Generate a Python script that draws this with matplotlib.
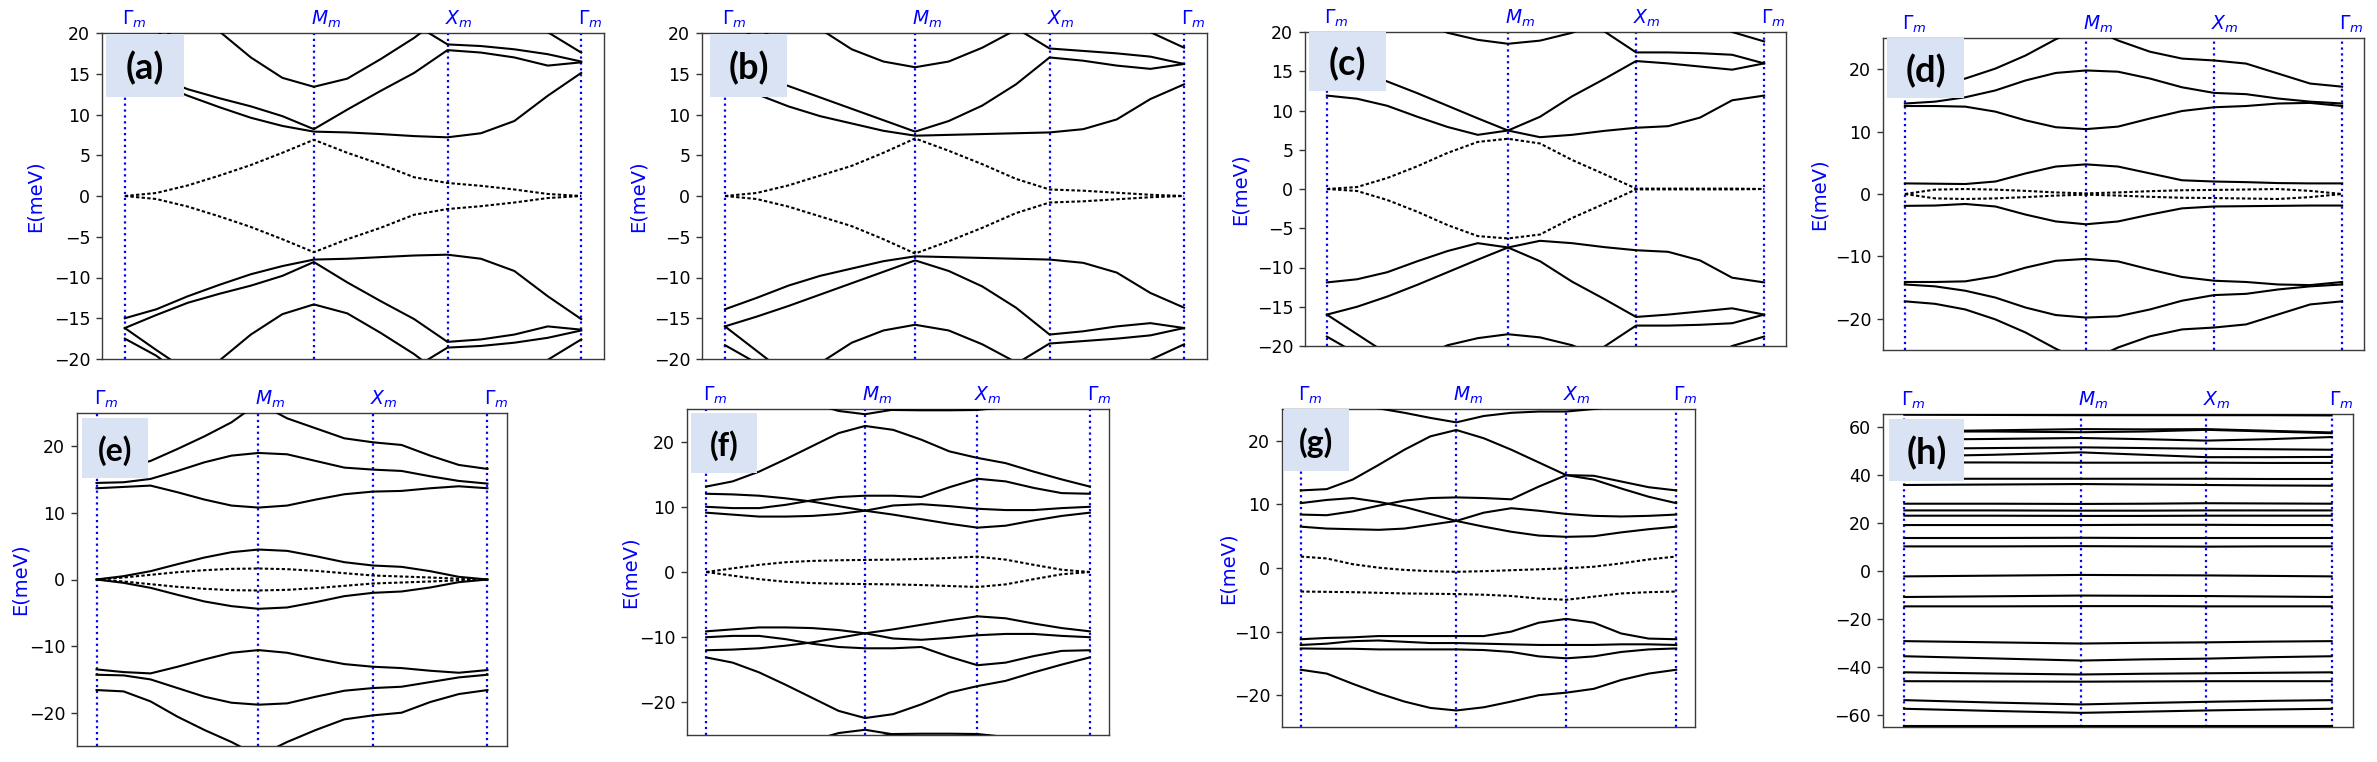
import numpy as np
import matplotlib.pyplot as plt
from matplotlib.patches import Rectangle
from matplotlib.transforms import blended_transform_factory, offset_copy

W, H = 2377, 762

s2 = np.sqrt(2.0)
k_nodes = [0.0, s2, s2 + 1.0, s2 + 2.0]
k_names = [r'$\Gamma_m$', r'$M_m$', r'$X_m$', r'$\Gamma_m$']
# points where the bands were read: 6 steps on Gamma-M, 4 on M-X, 4 on X-Gamma
k15 = np.concatenate([np.linspace(0, s2, 7), s2 + np.linspace(0, 1, 5)[1:],
                      s2 + 1 + np.linspace(0, 1, 5)[1:]])
# panel (h) is nearly flat: 2 steps per segment
k7 = np.concatenate([np.linspace(0, s2, 3), s2 + np.linspace(0, 1, 3)[1:],
                     s2 + 1 + np.linspace(0, 1, 3)[1:]])

# ---------------- (a) ----------------
bands_a = [
    [15.0, 13.9, 12.3, 10.9, 9.6, 8.6, 7.9, 7.8, 7.6, 7.35, 7.2, 7.7, 9.2, 12.3, 15.1],
    [16.2, 14.6, 13.1, 12.0, 11.0, 9.8, 8.2, 10.6, 12.9, 15.1, 17.9, 17.6, 17.0, 16.0, 16.4],
    [28.0, 26.0, 23.4, 20.2, 17.0, 14.5, 13.4, 14.4, 16.8, 19.4, 22.5, 24.0, 25.0, 25.5, 26.0],
    [30.0, 29.0, 28.0, 27.0, 26.0, 25.0, 24.5, 24.0, 23.0, 21.1, 18.6, 18.4, 18.0, 17.4, 16.5],
    [17.5, 19.6, 22.5, 25.0, 26.0, 27.0, 27.5, 27.0, 26.5, 26.0, 25.5, 24.0, 23.0, 20.1, 17.6],
    [16.2, 18.9, 21.5, 23.5, 25.5, 27.0, 28.0, 28.0, 28.0, 28.0, 28.0, 28.0, 28.0, 28.0, 28.0],
    [-15.0, -13.9, -12.3, -10.9, -9.6, -8.6, -7.8, -7.7, -7.5, -7.3, -7.2, -7.7, -9.2, -12.3, -15.1],
    [-16.2, -14.6, -13.1, -12.0, -11.0, -9.8, -8.1, -10.6, -12.9, -15.1, -17.9, -17.6, -17.0, -16.0, -16.4],
    [-28.0, -26.0, -23.4, -20.2, -17.0, -14.5, -13.3, -14.4, -16.8, -19.4, -22.5, -24.0, -25.0, -25.5, -26.0],
    [-30.0, -29.0, -28.0, -27.0, -26.0, -25.0, -24.5, -24.0, -23.0, -21.1, -18.6, -18.4, -18.0, -17.4, -16.5],
    [-17.5, -19.6, -22.5, -25.0, -26.0, -27.0, -27.5, -27.0, -26.5, -26.0, -25.5, -24.0, -23.0, -20.1, -17.6],
    [-16.2, -18.9, -21.5, -23.5, -25.5, -27.0, -28.0, -28.0, -28.0, -28.0, -28.0, -28.0, -28.0, -28.0, -28.0],
]
flat_a = [
    [0.0, 0.37, 1.3, 2.5, 3.8, 5.3, 6.9, 5.3, 3.9, 2.3, 1.6, 1.25, 0.8, 0.25, 0.0],
    [0.0, -0.37, -1.3, -2.5, -3.8, -5.3, -6.9, -5.3, -3.9, -2.3, -1.6, -1.25, -0.8, -0.25, 0.0],
]

# ---------------- (b) ----------------
bands_b = [
    [13.9, 12.5, 11.0, 9.8, 8.9, 8.0, 7.4, 7.5, 7.6, 7.7, 7.8, 8.2, 9.4, 11.9, 13.7],
    [16.0, 14.8, 13.5, 12.1, 10.7, 9.3, 7.9, 9.2, 11.1, 13.7, 17.0, 16.6, 16.0, 15.6, 16.2],
    [28.0, 26.0, 24.0, 20.5, 18.0, 16.5, 15.8, 16.5, 18.2, 20.4, 23.0, 24.5, 25.5, 26.0, 26.5],
    [30.0, 29.0, 28.0, 27.0, 26.0, 25.5, 25.0, 24.0, 22.5, 20.6, 18.1, 17.8, 17.5, 17.1, 16.2],
    [18.3, 20.5, 23.0, 25.0, 26.0, 27.0, 27.5, 27.0, 26.5, 26.0, 25.5, 24.5, 23.0, 20.1, 18.2],
    [16.0, 19.0, 22.0, 24.5, 26.0, 27.0, 28.0, 28.0, 28.0, 28.0, 28.0, 28.0, 28.0, 28.0, 28.0],
    [-13.9, -12.5, -11.0, -9.8, -8.9, -8.0, -7.4, -7.5, -7.6, -7.7, -7.8, -8.2, -9.4, -11.9, -13.7],
    [-16.0, -14.8, -13.5, -12.1, -10.7, -9.3, -7.9, -9.2, -11.1, -13.7, -17.0, -16.6, -16.0, -15.6, -16.2],
    [-28.0, -26.0, -24.0, -20.5, -18.0, -16.5, -15.8, -16.5, -18.2, -20.4, -23.0, -24.5, -25.5, -26.0, -26.5],
    [-30.0, -29.0, -28.0, -27.0, -26.0, -25.5, -25.0, -24.0, -22.5, -20.6, -18.1, -17.8, -17.5, -17.1, -16.2],
    [-18.3, -20.5, -23.0, -25.0, -26.0, -27.0, -27.5, -27.0, -26.5, -26.0, -25.5, -24.5, -23.0, -20.1, -18.2],
    [-16.0, -19.0, -22.0, -24.5, -26.0, -27.0, -28.0, -28.0, -28.0, -28.0, -28.0, -28.0, -28.0, -28.0, -28.0],
]
flat_b = [
    [0.0, 0.37, 1.3, 2.5, 3.7, 5.3, 7.06, 5.55, 3.9, 2.1, 0.8, 0.65, 0.4, 0.15, 0.0],
    [0.0, -0.37, -1.3, -2.5, -3.7, -5.3, -7.06, -5.55, -3.9, -2.1, -0.8, -0.65, -0.4, -0.15, 0.0],
]

# ---------------- (c) ----------------
bands_c = [
    [11.9, 11.5, 10.6, 9.2, 7.9, 6.9, 7.45, 9.2, 11.8, 14.0, 16.3, 16.0, 15.6, 15.2, 16.0],
    [16.0, 15.0, 13.7, 12.2, 10.6, 9.0, 7.45, 6.6, 6.9, 7.4, 7.8, 8.0, 9.1, 11.3, 11.9],
    [16.0, 18.5, 21.0, 23.5, 25.5, 27.0, 27.5, 25.2, 22.6, 20.1, 17.4, 17.4, 17.3, 17.1, 16.0],
    [18.8, 21.0, 23.5, 26.0, 27.5, 28.0, 28.0, 28.0, 28.0, 28.0, 28.0, 27.5, 22.5, 20.0, 18.8],
    [30.0, 27.5, 25.0, 21.6, 19.9, 19.0, 18.5, 18.9, 19.9, 21.6, 24.0, 26.0, 27.0, 28.0, 29.0],
    [-11.9, -11.5, -10.6, -9.2, -7.9, -6.9, -7.45, -9.2, -11.8, -14.0, -16.3, -16.0, -15.6, -15.2, -16.0],
    [-16.0, -15.0, -13.7, -12.2, -10.6, -9.0, -7.45, -6.6, -6.9, -7.4, -7.8, -8.0, -9.1, -11.3, -11.9],
    [-16.0, -18.5, -21.0, -23.5, -25.5, -27.0, -27.5, -25.2, -22.6, -20.1, -17.4, -17.4, -17.3, -17.1, -16.0],
    [-18.8, -21.0, -23.5, -26.0, -27.5, -28.0, -28.0, -28.0, -28.0, -28.0, -28.0, -27.5, -22.5, -20.0, -18.8],
    [-30.0, -27.5, -25.0, -21.6, -19.9, -19.0, -18.5, -18.9, -19.9, -21.6, -24.0, -26.0, -27.0, -28.0, -29.0],
]
flat_c = [
    [0.0, 0.25, 1.4, 2.9, 4.6, 6.0, 6.4, 5.8, 3.7, 1.9, 0.05, 0.05, 0.05, 0.05, 0.0],
    [0.0, -0.25, -1.4, -2.9, -4.6, -6.0, -6.3, -5.8, -3.7, -1.9, -0.05, -0.05, -0.05, -0.05, 0.0],
]

# ---------------- (d) ----------------
bands_d = [
    [17.2, 17.6, 18.5, 20.1, 22.2, 24.8, 27.0, 24.6, 22.8, 21.7, 21.4, 20.9, 19.3, 17.7, 17.2],
    [14.5, 14.8, 15.5, 16.6, 18.2, 19.4, 19.8, 19.6, 18.5, 17.1, 16.2, 16.0, 15.3, 14.8, 14.5],
    [14.1, 14.1, 14.0, 13.2, 11.8, 10.7, 10.4, 10.8, 12.1, 13.3, 13.9, 14.1, 14.5, 14.6, 14.1],
    [1.7, 1.65, 1.6, 2.0, 3.3, 4.4, 4.75, 4.4, 3.3, 2.2, 2.0, 1.9, 1.75, 1.7, 1.7],
    [-1.9, -1.85, -1.6, -2.0, -3.3, -4.4, -4.85, -4.4, -3.3, -2.3, -2.0, -1.95, -1.9, -1.85, -1.85],
    [-14.1, -14.1, -14.0, -13.2, -11.8, -10.7, -10.4, -10.8, -12.1, -13.3, -13.9, -14.1, -14.5, -14.6, -14.1],
    [-14.5, -14.8, -15.5, -16.6, -18.2, -19.4, -19.8, -19.6, -18.5, -17.1, -16.2, -16.0, -15.3, -14.8, -14.5],
    [-17.2, -17.6, -18.5, -20.1, -22.2, -24.8, -27.0, -24.6, -22.8, -21.7, -21.4, -20.9, -19.3, -17.7, -17.2],
]
flat_d = [
    [0.0, 0.7, 0.8, 0.7, 0.5, 0.25, 0.1, 0.25, 0.45, 0.6, 0.65, 0.72, 0.8, 0.5, 0.0],
    [0.0, -0.7, -0.8, -0.7, -0.5, -0.25, -0.1, -0.25, -0.45, -0.6, -0.65, -0.72, -0.8, -0.5, 0.0],
]

# ---------------- (e) ----------------
bands_e = [
    [16.6, 16.8, 17.8, 19.6, 21.5, 23.6, 26.5, 24.2, 22.7, 21.2, 20.6, 20.2, 18.6, 17.2, 16.6],
    [14.5, 14.6, 15.1, 16.3, 17.6, 18.6, 19.0, 18.8, 17.8, 16.8, 16.5, 16.3, 15.5, 14.8, 14.4],
    [13.7, 13.9, 14.1, 13.1, 12.0, 11.1, 10.8, 11.1, 12.0, 12.8, 13.2, 13.3, 13.7, 14.0, 13.7],
    [0.0, 0.5, 1.25, 2.3, 3.3, 4.1, 4.5, 4.3, 3.5, 2.6, 2.1, 1.9, 1.25, 0.4, 0.0],
    [0.0, -0.5, -1.25, -2.3, -3.3, -4.0, -4.4, -4.2, -3.4, -2.5, -2.0, -1.8, -1.2, -0.4, 0.0],
    [-13.5, -13.9, -14.1, -13.1, -12.0, -11.0, -10.6, -11.0, -11.9, -12.7, -13.1, -13.3, -13.7, -14.0, -13.6],
    [-14.3, -14.4, -15.0, -16.3, -17.6, -18.5, -18.8, -18.6, -17.6, -16.7, -16.3, -16.1, -15.4, -14.7, -14.3],
    [-16.6, -16.8, -18.3, -20.6, -22.6, -24.4, -26.5, -24.4, -22.6, -21.0, -20.4, -20.0, -18.4, -17.2, -16.6],
]
flat_e = [
    [0.0, 0.3, 0.7, 1.1, 1.4, 1.6, 1.65, 1.55, 1.3, 0.95, 0.6, 0.45, 0.3, 0.12, 0.0],
    [0.0, -0.3, -0.7, -1.1, -1.4, -1.6, -1.65, -1.55, -1.3, -0.95, -0.6, -0.45, -0.3, -0.12, 0.0],
]

# ---------------- (f) ----------------
bands_f = [
    [31.0, 30.0, 29.0, 27.5, 25.9, 24.7, 24.2, 24.9, 25.7, 26.5, 27.5, 28.5, 29.5, 30.5, 31.0],
    [32.0, 31.0, 30.0, 29.0, 28.0, 27.0, 25.6, 24.85, 24.8, 24.8, 24.85, 25.3, 27.0, 29.5, 32.0],
    [13.1, 13.9, 15.4, 17.3, 19.3, 21.3, 22.4, 21.8, 20.3, 18.5, 17.5, 16.7, 15.4, 14.2, 13.1],
    [12.0, 11.9, 11.7, 11.3, 10.8, 10.1, 9.4, 8.8, 8.1, 7.4, 6.8, 7.1, 7.9, 8.6, 9.1],
    [10.0, 9.8, 9.8, 10.3, 11.0, 11.5, 11.7, 11.7, 11.5, 13.0, 14.3, 13.9, 12.9, 12.1, 12.0],
    [9.1, 8.8, 8.5, 8.5, 8.6, 8.9, 9.4, 10.2, 10.4, 10.1, 9.7, 9.5, 9.5, 9.8, 10.0],
    [-31.0, -30.0, -29.0, -27.5, -25.9, -24.7, -24.2, -24.9, -25.7, -26.5, -27.5, -28.5, -29.5, -30.5, -31.0],
    [-32.0, -31.0, -30.0, -29.0, -28.0, -27.0, -25.6, -24.85, -24.8, -24.8, -24.85, -25.3, -27.0, -29.5, -32.0],
    [-13.1, -13.9, -15.4, -17.3, -19.3, -21.3, -22.4, -21.8, -20.3, -18.5, -17.5, -16.7, -15.4, -14.2, -13.1],
    [-12.0, -11.9, -11.7, -11.3, -10.8, -10.1, -9.4, -8.8, -8.1, -7.4, -6.8, -7.1, -7.9, -8.6, -9.1],
    [-10.0, -9.8, -9.8, -10.3, -11.0, -11.5, -11.7, -11.7, -11.5, -13.0, -14.3, -13.9, -12.9, -12.1, -12.0],
    [-9.1, -8.8, -8.5, -8.5, -8.6, -8.9, -9.4, -10.2, -10.4, -10.1, -9.7, -9.5, -9.5, -9.8, -10.0],
]
flat_f = [
    [0.0, 0.56, 1.1, 1.5, 1.7, 1.8, 1.85, 1.9, 2.0, 2.15, 2.35, 1.9, 1.1, 0.35, 0.0],
    [0.0, -0.56, -1.1, -1.5, -1.7, -1.8, -1.85, -1.9, -2.0, -2.15, -2.3, -1.9, -1.1, -0.35, 0.0],
]

# ---------------- (g) ----------------
bands_g = [
    [27.0, 26.5, 25.8, 25.1, 24.4, 23.6, 22.9, 23.9, 24.4, 24.6, 24.6, 25.0, 25.5, 26.0, 26.5],
    [12.2, 12.4, 13.9, 16.2, 18.6, 20.7, 21.7, 20.4, 18.6, 16.6, 14.6, 13.9, 12.5, 11.2, 10.2],
    [8.4, 8.3, 8.9, 9.8, 10.6, 11.0, 11.1, 11.0, 10.8, 12.8, 14.6, 14.5, 13.6, 12.7, 12.2],
    [10.2, 10.7, 11.0, 10.4, 9.6, 8.5, 7.4, 6.5, 5.7, 5.1, 4.9, 5.0, 5.6, 6.1, 6.5],
    [6.5, 6.2, 6.1, 6.0, 6.2, 6.8, 7.4, 8.7, 9.4, 9.0, 8.5, 8.2, 8.1, 8.2, 8.4],
    [-11.2, -11.0, -10.9, -10.7, -10.7, -10.7, -10.7, -10.7, -10.0, -8.6, -8.0, -8.6, -10.3, -11.1, -11.2],
    [-12.1, -11.9, -11.5, -11.4, -11.6, -11.8, -11.8, -11.9, -12.0, -12.1, -12.1, -12.1, -12.0, -12.0, -12.1],
    [-12.65, -12.7, -12.7, -12.8, -12.8, -12.8, -12.8, -12.9, -13.2, -13.9, -14.2, -13.9, -13.2, -12.8, -12.65],
    [-16.0, -16.6, -18.2, -19.7, -21.0, -22.0, -22.4, -21.9, -21.0, -20.0, -19.6, -19.0, -17.6, -16.6, -16.0],
]
flat_g = [
    [1.8, 1.5, 0.6, 0.05, -0.3, -0.5, -0.6, -0.5, -0.35, -0.2, -0.05, 0.2, 0.73, 1.35, 1.8],
    [-3.7, -3.75, -3.8, -3.9, -4.0, -4.05, -4.1, -4.2, -4.4, -4.8, -5.0, -4.5, -4.0, -3.8, -3.7],
]

# ---------------- (h) ----------------
bands_h = [
    [65.0, 64.9, 64.8, 64.8, 64.8, 64.8, 64.7],
    [58.0, 58.5, 59.0, 58.9, 59.0, 58.3, 57.6],
    [58.0, 58.0, 57.7, 58.0, 58.7, 58.0, 57.3],
    [54.6, 54.9, 55.3, 54.8, 54.2, 54.8, 55.7],
    [50.8, 51.1, 51.4, 51.1, 50.8, 50.6, 50.4],
    [47.6, 48.3, 49.3, 48.3, 47.3, 47.3, 47.4],
    [45.1, 45.1, 45.0, 45.0, 45.0, 44.9, 44.9],
    [38.3, 38.3, 38.3, 38.3, 38.3, 38.2, 38.2],
    [35.7, 35.9, 36.1, 35.9, 35.7, 35.5, 35.4],
    [27.9, 27.9, 27.8, 27.9, 28.1, 28.0, 27.9],
    [25.1, 25.1, 25.0, 25.0, 25.1, 25.1, 25.1],
    [22.9, 22.9, 22.8, 22.8, 22.9, 22.9, 22.9],
    [19.0, 19.0, 19.0, 19.1, 19.1, 19.0, 19.0],
    [13.6, 13.6, 13.7, 13.6, 13.6, 13.6, 13.6],
    [10.1, 10.1, 10.2, 10.1, 10.0, 10.1, 10.1],
    [-2.4, -2.1, -1.8, -1.9, -2.0, -2.2, -2.4],
    [-11.0, -10.7, -10.4, -10.5, -10.6, -10.8, -11.0],
    [-14.9, -14.9, -14.8, -14.8, -14.9, -14.9, -14.9],
    [-29.4, -29.9, -30.4, -30.1, -29.9, -29.6, -29.4],
    [-35.7, -36.6, -37.5, -37.0, -36.7, -36.1, -35.7],
    [-42.4, -42.9, -43.3, -43.0, -42.8, -42.6, -42.4],
    [-46.1, -46.2, -46.3, -46.2, -46.1, -46.1, -46.1],
    [-54.0, -55.0, -55.8, -55.2, -54.7, -54.3, -54.0],
    [-57.6, -58.5, -59.3, -58.8, -58.3, -57.9, -57.6],
    [-64.9, -64.9, -64.9, -64.9, -64.9, -64.9, -64.9],
]
flat_h = []

ticks20 = [-20, -15, -10, -5, 0, 5, 10, 15, 20]
ticks25 = [-20, -10, 0, 10, 20]
ticks65 = [-60, -40, -20, 0, 20, 40, 60]

# label, bands, flat bands, k grid, axes box (px: l,t,r,b), ylim, yticks, ylabel x (px), tag box (px), tag size
panels = [
    ('(a)', bands_a, flat_a, k15, (102, 33, 604, 359), (-20, 20), ticks20, 35, (106, 34, 184, 97), 26),
    ('(b)', bands_b, flat_b, k15, (702, 33, 1207, 359), (-20, 20), ticks20, 638, (710, 34, 787, 97), 26),
    ('(c)', bands_c, flat_c, k15, (1305, 32, 1786, 346), (-20, 20), ticks20, 1240, (1309, 32, 1386, 91), 26),
    ('(d)', bands_d, flat_d, k15, (1883, 38, 2364, 350), (-25, 25), ticks25, 1819, (1887, 38, 1964, 98), 26),
    ('(e)', bands_e, flat_e, k15, (77, 413, 507, 746), (-25, 25), ticks25, 20, (82, 418, 148, 478), 23),
    ('(f)', bands_f, flat_f, k15, (687, 409, 1109, 735), (-25, 25), ticks25, 630, (691, 413, 757, 473), 23),
    ('(g)', bands_g, flat_g, k15, (1282, 409, 1695, 727), (-25, 25), ticks25, 1228, (1284, 409, 1349, 471), 23),
    ('(h)', bands_h, flat_h, k7, (1883, 414, 2353, 727), (-65.2, 65.3), ticks65, None, (1889, 419, 1964, 481), 26),
]

fig = plt.figure(figsize=(W / 100, H / 100), dpi=100)
L = k_nodes[-1]

for tag, bands, flats, kg, (l, t, r, b), ylim, yticks, ylab_x, (bl, bt, br, bb), tsize in panels:
    ax = fig.add_axes([l / W, 1 - b / H, (r - l) / W, (b - t) / H])
    for e in bands:
        ax.plot(kg, e, color='black', lw=1.5, zorder=3)
    for e in flats:
        ax.plot(kg, e, color='black', lw=1.5, ls=(0, (1.6, 1.1)), zorder=3)
    for kn in k_nodes:
        ax.axvline(kn, color='blue', ls=':', lw=1.6, zorder=2)
    ax.set_xlim(-0.05 * L, 1.05 * L)
    ax.set_ylim(*ylim)
    ax.set_xticks([])
    ax.set_yticks(yticks)
    ax.tick_params(axis='y', labelsize=12.5, length=4.5, width=1, pad=4, color='#333333')
    for sp in ax.spines.values():
        sp.set_color('#3a3a3a')
        sp.set_linewidth(1.0)

    trans = offset_copy(blended_transform_factory(ax.transData, ax.transAxes),
                        fig=fig, x=-3, y=3, units='dots')
    for kn, name in zip(k_nodes, k_names):
        ax.text(kn, 1.0, name, transform=trans, ha='left', va='bottom',
                color='blue', fontsize=13.5)

    if ylab_x is not None:
        fig.text(ylab_x / W, 1 - (t + b) / 2 / H, 'E(meV)', rotation=90,
                 ha='center', va='center', color='blue', fontsize=14)

    fig.add_artist(Rectangle((bl / W, 1 - bb / H), (br - bl) / W, (bb - bt) / H,
                             transform=fig.transFigure, facecolor='#dae3f3',
                             edgecolor='none', zorder=5))
    fig.text((bl + br) / 2 / W, 1 - ((bt + bb) / 2 + 3) / H, tag, ha='center', va='center',
             fontsize=tsize, fontweight='bold', family='Lato', zorder=6)

fig.savefig('out.png', dpi=100)
